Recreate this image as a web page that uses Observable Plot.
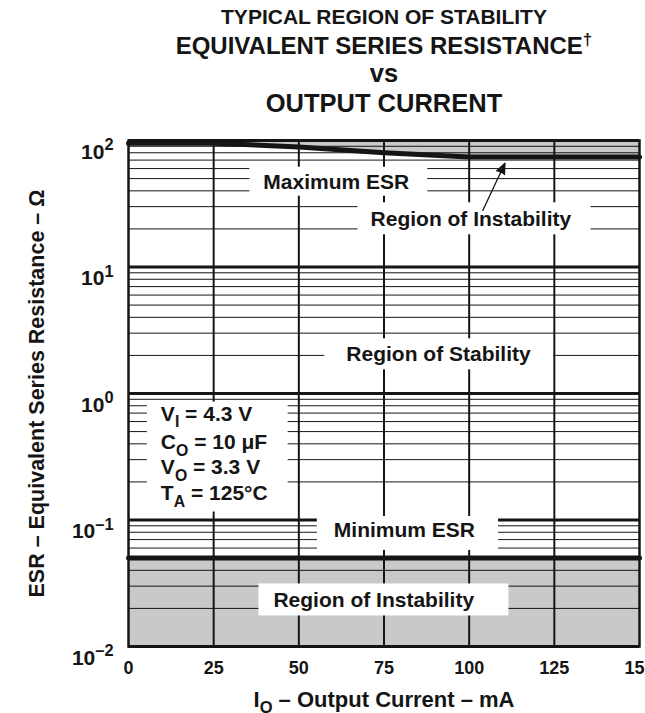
<!DOCTYPE html>
<html><head><meta charset="utf-8">
<script src="https://cdn.jsdelivr.net/npm/d3@7"></script>
<script src="https://cdn.jsdelivr.net/npm/@observablehq/plot@0.6"></script>
<style>
body{margin:0;background:#fff;font-family:"Liberation Sans",Arial,sans-serif;}
#title{position:relative;width:645px;height:120px;font-weight:bold;color:#151515;}
#title div{position:absolute;left:123px;width:522px;text-align:center;height:30px;line-height:30px;white-space:nowrap;}
#title sup{font-size:17px;line-height:0;}
#chart svg{display:block;}
</style></head><body>
<div id="title">
  <div style="top:2px;font-size:21px">TYPICAL REGION OF STABILITY</div>
  <div style="top:31px;font-size:24px">EQUIVALENT SERIES RESISTANCE<sup>†</sup></div>
  <div style="top:58px;font-size:25.5px">vs</div>
  <div style="top:88px;font-size:25.5px">OUTPUT CURRENT</div>
</div>
<div id="chart"></div>
<script>
// ---- data ----
const currentTicks = [0, 25, 50, 75, 100, 125, 150];        // mA
const decadeTicks = [0.01, 0.1, 1, 10, 100];                // Ω
const maxEsrCurrent = [0, 25, 50, 75, 100, 125, 150];
const maxEsrValue   = [95, 95, 89, 80, 74, 74, 74];
const minEsrCurrent = [0, 150];
const minEsrValue   = [0.05, 0.05];
const labelText = ["Maximum ESR", "Region of Instability", "Region of Stability", "Minimum ESR", "Region of Instability"];
const labelCurrent = [61, 100.5, 91, 81, 72];
const labelEsr = [47, 23.7, 2.03, 0.083, 0.023];
const conditionText = ["V_{I} = 4.3 V", "C_{O} = 10 μF", "V_{O} = 3.3 V", "T_{A} = 125°C"];
const conditionCurrent = [9.5, 9.5, 9.5, 9.5];
const conditionEsr = [0.69, 0.41, 0.26, 0.162];
const arrowFrom = {current: 104, esr: 28};
const arrowTo = {current: 110.5, esr: 66};
const xLabel = "I_{O} – Output Current – mA";
const yLabel = "ESR – Equivalent Series Resistance – Ω";

// ---- tables built from data ----
const maxEsr = maxEsrCurrent.map((c, i) => ({current: c, esr: maxEsrValue[i]}));
const minEsr = minEsrCurrent.map((c, i) => ({current: c, esr: minEsrValue[i]}));
const labels = labelText.map((t, i) => ({text: t, current: labelCurrent[i], esr: labelEsr[i]}));
const conditions = conditionText.map((t, i) => ({text: t, current: conditionCurrent[i], esr: conditionEsr[i]}));
const minorTicks = [];
for (const d of decadeTicks.slice(0, -1)) for (let m = 2; m <= 9; m++) minorTicks.push(+(d * m).toPrecision(3));
const topEsr = d3.max(decadeTicks), bottomEsr = d3.min(decadeTicks);

// ---- styles ----
const gray = "#c8c9cb", ink = "#151515";
// white box padding per label: [left, right, top, bottom] in px
const boxPad = [[14, 18, 3, 3], [13, 19, 5, 4], [22, 22, 4, 4], [17, 23, 2, 9], [15, 34, 5, 4]];
const expFmt = d => { const e = Math.round(Math.log10(d)); return "10^{" + (e < 0 ? "–" + (-e) : e) + "}"; };

const chart = Plot.plot({
  width: 645, height: 593,
  marginTop: 20, marginBottom: 67, marginLeft: 128, marginRight: 6,
  style: {fontFamily: '"Liberation Sans", Arial, sans-serif', fontSize: "18px", fontWeight: "bold", color: ink, background: "white"},
  x: {domain: [0, 150], ticks: currentTicks, tickSize: 0, tickPadding: 15, label: null},
  y: {type: "log", domain: [bottomEsr, topEsr], ticks: decadeTicks, tickSize: 0, tickPadding: 15, tickFormat: expFmt, label: null},
  marks: [
    Plot.areaY(maxEsr, {x: "current", y1: "esr", y2: () => topEsr, fill: gray}),
    Plot.areaY(minEsr, {x: "current", y1: () => bottomEsr, y2: "esr", fill: gray}),
    Plot.ruleY(minorTicks, {stroke: ink, strokeWidth: 1}),
    Plot.ruleY(decadeTicks, {stroke: ink, strokeWidth: 3}),
    Plot.ruleX(currentTicks.slice(1, -1), {stroke: ink, strokeWidth: 2}),
    Plot.line(maxEsr, {x: "current", y: "esr", stroke: ink, strokeWidth: 5}),
    Plot.line(minEsr, {x: "current", y: "esr", stroke: ink, strokeWidth: 5}),
    Plot.text(labels, {x: "current", y: "esr", text: "text", fontSize: 21, fontWeight: "bold", fill: ink, ariaDescription: "boxed"}),
    Plot.text(conditions, {x: "current", y: "esr", text: "text", textAnchor: "start", fontSize: 21, fontWeight: "bold", fill: ink, ariaDescription: "boxed-group"}),
    Plot.arrow([{}], {x1: () => arrowFrom.current, y1: () => arrowFrom.esr, x2: () => arrowTo.current, y2: () => arrowTo.esr, stroke: ink, strokeWidth: 1.3, headLength: 13, headAngle: 45, ariaDescription: "pointer"}),
    Plot.frame({stroke: ink, strokeWidth: 2.5}),
    Plot.text([yLabel], {frameAnchor: "left", dx: -91, rotate: -90, textAnchor: "middle", lineAnchor: "middle", text: d => d, fontSize: 21.5, fontWeight: "bold", fill: ink}),
    Plot.text([xLabel], {frameAnchor: "bottom", dy: 53, textAnchor: "middle", lineAnchor: "middle", text: d => d, fontSize: 22, fontWeight: "bold", fill: ink})
  ]
});
document.getElementById("chart").append(chart);

// ---- y tick labels: larger, sitting a little lower ----
chart.querySelectorAll('[aria-label="y-axis tick label"] text').forEach(t => {
  t.setAttribute("font-size", 21);
  t.setAttribute("dy", "0.55em");
});

// ---- rich text (sub/superscripts) ----
const svgNS = "http://www.w3.org/2000/svg";
chart.querySelectorAll("text").forEach(el => {
  const s = el.textContent;
  if (!/[_^]\{/.test(s)) return;
  const re = /([_^])\{([^}]*)\}/g; const parts = []; let last = 0, m;
  while ((m = re.exec(s))) { if (m.index > last) parts.push({t: s.slice(last, m.index)}); parts.push({t: m[2], k: m[1]}); last = re.lastIndex; }
  if (last < s.length) parts.push({t: s.slice(last)});
  const fs = parseFloat(getComputedStyle(el).fontSize);
  el.textContent = "";
  let shift = 0;
  for (const p of parts) {
    const ts = document.createElementNS(svgNS, "tspan");
    const target = p.k === "^" ? -0.41 * fs : p.k === "_" ? 0.3 * fs : 0;
    if (target - shift) ts.setAttribute("dy", target - shift);
    shift = target;
    if (p.k) ts.setAttribute("font-size", ((p.k === "^" ? 0.78 : 0.75) * fs).toFixed(1));
    ts.textContent = p.t;
    el.appendChild(ts);
  }
});

// ---- filled arrow head ----
chart.querySelectorAll('[aria-description="pointer"] path').forEach(p => p.setAttribute("fill", ink));

// ---- white boxes behind labels ----
const sr = chart.getBoundingClientRect();
function box(group, rects, pads) {
  const g = document.createElementNS(svgNS, "g");
  rects.forEach((r, i) => {
    const [pl, pr, pt, pb] = pads[i];
    const rect = document.createElementNS(svgNS, "rect");
    rect.setAttribute("x", r.left - sr.left - pl);
    rect.setAttribute("y", r.top - sr.top - pt);
    rect.setAttribute("width", r.width + pl + pr);
    rect.setAttribute("height", r.height + pt + pb);
    rect.setAttribute("fill", "white");
    g.appendChild(rect);
  });
  group.parentNode.insertBefore(g, group);
}
chart.querySelectorAll('[aria-description="boxed"]').forEach(g => {
  box(g, [...g.querySelectorAll("text")].map(t => t.getBoundingClientRect()), boxPad);
});
chart.querySelectorAll('[aria-description="boxed-group"]').forEach(g => {
  const rs = [...g.querySelectorAll("text")].map(t => t.getBoundingClientRect());
  const l = d3.min(rs, r => r.left), t = d3.min(rs, r => r.top), r2 = d3.max(rs, r => r.right), b = d3.max(rs, r => r.bottom);
  box(g, [{left: l, top: t, width: r2 - l, height: b - t}], [[14, 20, 0, 2]]);
});
</script>
</body></html>
